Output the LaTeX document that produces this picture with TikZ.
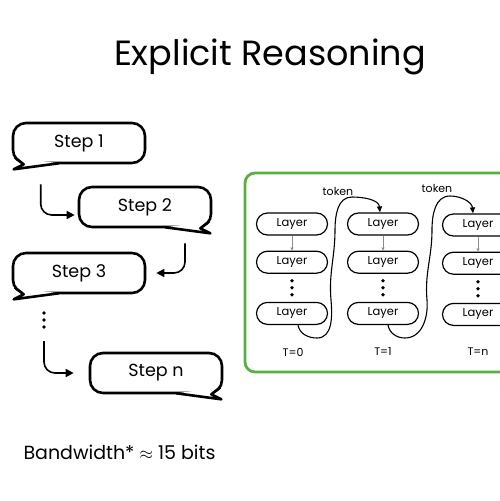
\documentclass[tikz,border=0pt]{standalone}
\usepackage{fontspec}
\setmainfont{Poppins}
\usetikzlibrary{arrows.meta, positioning, calc}
\definecolor{boxgreen}{RGB}{88,176,64}
\tikzset{
  bubble/.style={rectangle, rounded corners=13pt,
    draw=black, line width=2.6pt, fill=white,
    minimum width=132pt, minimum height=40pt,
    font=\fontsize{17.5}{20}\selectfont},
  tail/.style={draw=black, fill=white, line width=2.6pt, line join=round},
  layer/.style={rectangle, rounded corners=11pt,
    draw=black, line width=1.2pt, fill=white,
    minimum width=71pt, minimum height=22pt,
    font=\fontsize{11.5}{13}\selectfont},
  arr/.style={-{Triangle[length=8pt,width=8pt]}, line width=1.6pt, rounded corners=11pt},
  minarr/.style={-{Triangle[length=3pt,width=3pt]}, draw=black!45, line width=0.6pt},
  tokarr/.style={-{Triangle[length=6pt,width=5pt]}, line width=1.1pt},
  small/.style={font=\fontsize{11}{13}\selectfont},
  frame/.style={draw=boxgreen, line width=2.8pt, rounded corners=10pt},
}
% comic tails under the bubbles
\newcommand{\lefttail}[1]{%
  \filldraw[tail] ($(#1.south west)+(3,7)$) -- ($(#1.south west)+(12,0)$)
    -- ($(#1.south west)+(2,-5)$) -- ($(#1.south west)+(47,1)$);}
\newcommand{\righttail}[1]{%
  \filldraw[tail] ($(#1.south east)+(-3,7)$) -- ($(#1.south east)+(-12,0)$)
    -- ($(#1.south east)+(-2,-5)$) -- ($(#1.south east)+(-47,1)$);}

\begin{document}
\begin{tikzpicture}[x=1pt, y=1pt, node distance=15pt]
\path[use as bounding box, clip] (0,0) rectangle (500,-501);

% Title
\node (title) at (270,-57) [font=\fontsize{35}{42}\selectfont] {Explicit Reasoning};

% Steps
\node (s1) [bubble] at (79,-143)  {Step 1};
\node (s2) [bubble] at (145,-207) {Step 2};
\node (s3) [bubble] at (79,-273)  {Step 3};
\node (sn) [bubble] at (156,-373) {Step n};
\lefttail{s1}
\righttail{s2}
\lefttail{s3}
\righttail{sn}

\coordinate (vd) at (44,-320);
\foreach \k in {-7,0,7}
  \fill ($(vd)+(0,\k)$) circle (1.8);

\draw[arr] ([xshift=29pt,yshift=-20pt]s1.south west) |- ([xshift=-3pt,yshift=-8pt]s2.west);
\draw[arr] ([xshift=40pt,yshift=-15pt]s2.south) |- ([xshift=10pt]s3.east);
\draw[arr] ([yshift=-21pt]vd) |- ([xshift=-15pt]sn.west);

% Bandwidth
\node (bw) [anchor=west, font=\fontsize{19}{23}\selectfont] at (20,-452)
  {Bandwidth* $\approx$ 15 bits};

% Green panel
\draw[frame, fill=white] (245,-173) rectangle (530,-372);

% Layer columns
\node (l01) [layer] at (292,-224) {Layer};
\node (l02) [layer, below=of l01] {Layer};
\node (l03) [layer, below=28pt of l02] {Layer};
\node (l11) [layer] at (383,-224) {Layer};
\node (l12) [layer, below=of l11] {Layer};
\node (l13) [layer, below=28pt of l12] {Layer};
\node (l21) [layer] at (478,-225) {Layer};
\node (l22) [layer, below=of l21] {Layer};
\node (l23) [layer, below=28pt of l22] {Layer};

\foreach \c in {0,1,2} {
  \draw[minarr] (l\c1.south) -- (l\c2.north);
  \foreach \k in {-7,0,7}
    \fill ($(l\c2.south)!0.5!(l\c3.north)+(0,\k)$) circle (1.9);
}

\node (t0) [small] at (293,-352) {T=0};
\node (t1) [small] at (383,-352) {T=1};
\node (tn) [small] at (478,-352) {T=n};

% Token feedback
\node (k1) [small] at (338,-191) {token};
\node (k2) [small] at (437,-188) {token};
\draw[tokarr] ([xshift=6pt]l03.south) to[out=-80,in=180] (317,-338)
  to[out=0,in=-85] (331,-300) to[out=95,in=-90] (335,-230)
  to[out=90,in=180] (352,-197) to[out=0,in=95] ([xshift=-3pt]l11.north);
\draw[tokarr] ([xshift=5pt]l13.south) to[out=-80,in=180] (405,-338)
  to[out=0,in=-85] (427,-300) to[out=95,in=-90] (432,-230)
  to[out=90,in=180] (450,-196) to[out=0,in=95] ([xshift=-5pt]l21.north);

\end{tikzpicture}
\end{document}
